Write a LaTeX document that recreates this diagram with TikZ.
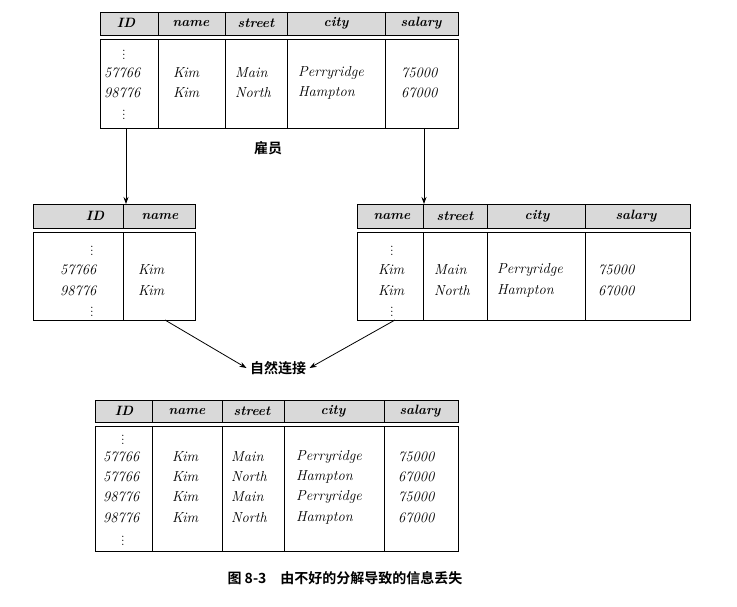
\documentclass[tikz,border=0pt]{standalone}
\usepackage{fontspec}
\usetikzlibrary{arrows.meta}
\newfontfamily\cjk{Noto Sans CJK SC}[BoldFont={Noto Sans CJK SC Bold}]
\begin{document}
\begin{tikzpicture}[x=1pt,y=-1pt,
  hdr/.style={draw,line width=1pt,fill=gray!30},
  body/.style={draw,line width=0.9pt},
  ht/.style={font=\fontsize{13.5}{15}\selectfont\bfseries\itshape,inner sep=0pt},
  cell/.style={font=\fontsize{14.5}{16}\selectfont\itshape,anchor=west,inner sep=0pt},
  dots/.style={font=\fontsize{13}{13}\selectfont,inner sep=0pt},
  arr/.style={-{Stealth[length=7pt,width=5pt]},line width=0.8pt},
  lab/.style={font=\cjk\bfseries\fontsize{14}{16}\selectfont}]
\useasboundingbox (0,0) rectangle (737,606);
% ---------- top table ----------
\node[hdr,minimum width=358,minimum height=23,inner sep=0,anchor=north west] (th) at (100,12) {};
\foreach \x in {158,225,287,385}{\draw[line width=1pt] (\x,12)--(\x,35);}
\node[body,minimum width=358,minimum height=89,inner sep=0,anchor=north west] (tb) at (100,39) {};
\foreach \x in {158,225,287,385}{\draw[line width=0.9pt] (\x,39)--(\x,128);}
\node[ht] at (126,23) {ID};
\node[ht] at (191,23) {name};
\node[ht] at (256,23) {street};
\node[ht] at (336,23) {city};
\node[ht] at (421,23) {salary};
\node[dots] at (124,52) {$\vdots$};
\node[dots] at (124,112) {$\vdots$};
\foreach \y/\a/\b/\c/\d/\e in {73/57766/Kim/Main/Perryridge/75000, 93/98776/Kim/North/Hampton/67000}{
  \node[cell] at (104,\y) {\a};
  \node[cell] at (173,\y) {\b};
  \node[cell] at (235,\y) {\c};
  \node[cell] at (298,\y) {\d};
  \node[cell] at (401,\y) {\e};
}
\node[lab] (emp) at (268,148) {雇员};
% ---------- left table ----------
\node[hdr,minimum width=162,minimum height=24,inner sep=0,anchor=north west] (lh) at (33,204) {};
\draw[line width=1pt] (123,204)--(123,228);
\node[body,minimum width=162,minimum height=88,inner sep=0,anchor=north west] (lb) at (33,232) {};
\draw[line width=0.9pt] (123,232)--(123,320);
\node[ht] at (95,216) {ID};
\node[ht] at (160,216) {name};
\node[dots] at (92,248) {$\vdots$};
\node[dots] at (92,309) {$\vdots$};
\foreach \y/\a in {270/57766, 291/98776}{
  \node[cell] at (60,\y) {\a};
  \node[cell] at (138,\y) {Kim};
}
% ---------- right table ----------
\node[hdr,minimum width=333,minimum height=24,inner sep=0,anchor=north west] (rh) at (357,204) {};
\foreach \x in {423,487,585}{\draw[line width=1pt] (\x,204)--(\x,228);}
\node[body,minimum width=333,minimum height=88,inner sep=0,anchor=north west] (rb) at (357,232) {};
\foreach \x in {423,487,585}{\draw[line width=0.9pt] (\x,232)--(\x,320);}
\node[ht] at (392,216) {name};
\node[ht] at (455,216) {street};
\node[ht] at (537,216) {city};
\node[ht] at (636,216) {salary};
\node[dots] at (392,248) {$\vdots$};
\node[dots] at (392,309) {$\vdots$};
\foreach \y/\c/\d/\e in {270/Main/Perryridge/75000, 291/North/Hampton/67000}{
  \node[cell] at (378,\y) {Kim};
  \node[cell] at (434,\y) {\c};
  \node[cell] at (497,\y) {\d};
  \node[cell] at (598,\y) {\e};
}
\node[lab] (join) at (278,368) {自然连接};
% ---------- bottom table ----------
\node[hdr,minimum width=363,minimum height=22,inner sep=0,anchor=north west] (bh) at (95,400) {};
\foreach \x in {152,222,284,384}{\draw[line width=1pt] (\x,400)--(\x,422);}
\node[body,minimum width=363,minimum height=125,inner sep=0,anchor=north west] (bb) at (95,426) {};
\foreach \x in {152,222,284,384}{\draw[line width=0.9pt] (\x,426)--(\x,551);}
\node[ht] at (124,411) {ID};
\node[ht] at (187,411) {name};
\node[ht] at (252,411) {street};
\node[ht] at (333,411) {city};
\node[ht] at (420,411) {salary};
\node[dots] at (123,437) {$\vdots$};
\node[dots] at (123,538) {$\vdots$};
\foreach \y/\a/\c/\d/\e in {457/57766/Main/Perryridge/75000, 477/57766/North/Hampton/67000, 497/98776/Main/Perryridge/75000, 518/98776/North/Hampton/67000}{
  \node[cell] at (103,\y) {\a};
  \node[cell] at (172,\y) {Kim};
  \node[cell] at (231,\y) {\c};
  \node[cell] at (296,\y) {\d};
  \node[cell] at (398,\y) {\e};
}
% ---------- connectors ----------
\draw[arr] (126,128) -- (126,204);
\draw[arr] (424,128) -- (424,204);
\draw[arr] (165,320) -- (join.west);
\draw[arr] (395,320) -- (join.east);
% caption
\node[font=\cjk\bfseries\fontsize{14}{16}\selectfont] (cap) at (345,578) {图 8-3\quad 由不好的分解导致的信息丢失};
\end{tikzpicture}
\end{document}
